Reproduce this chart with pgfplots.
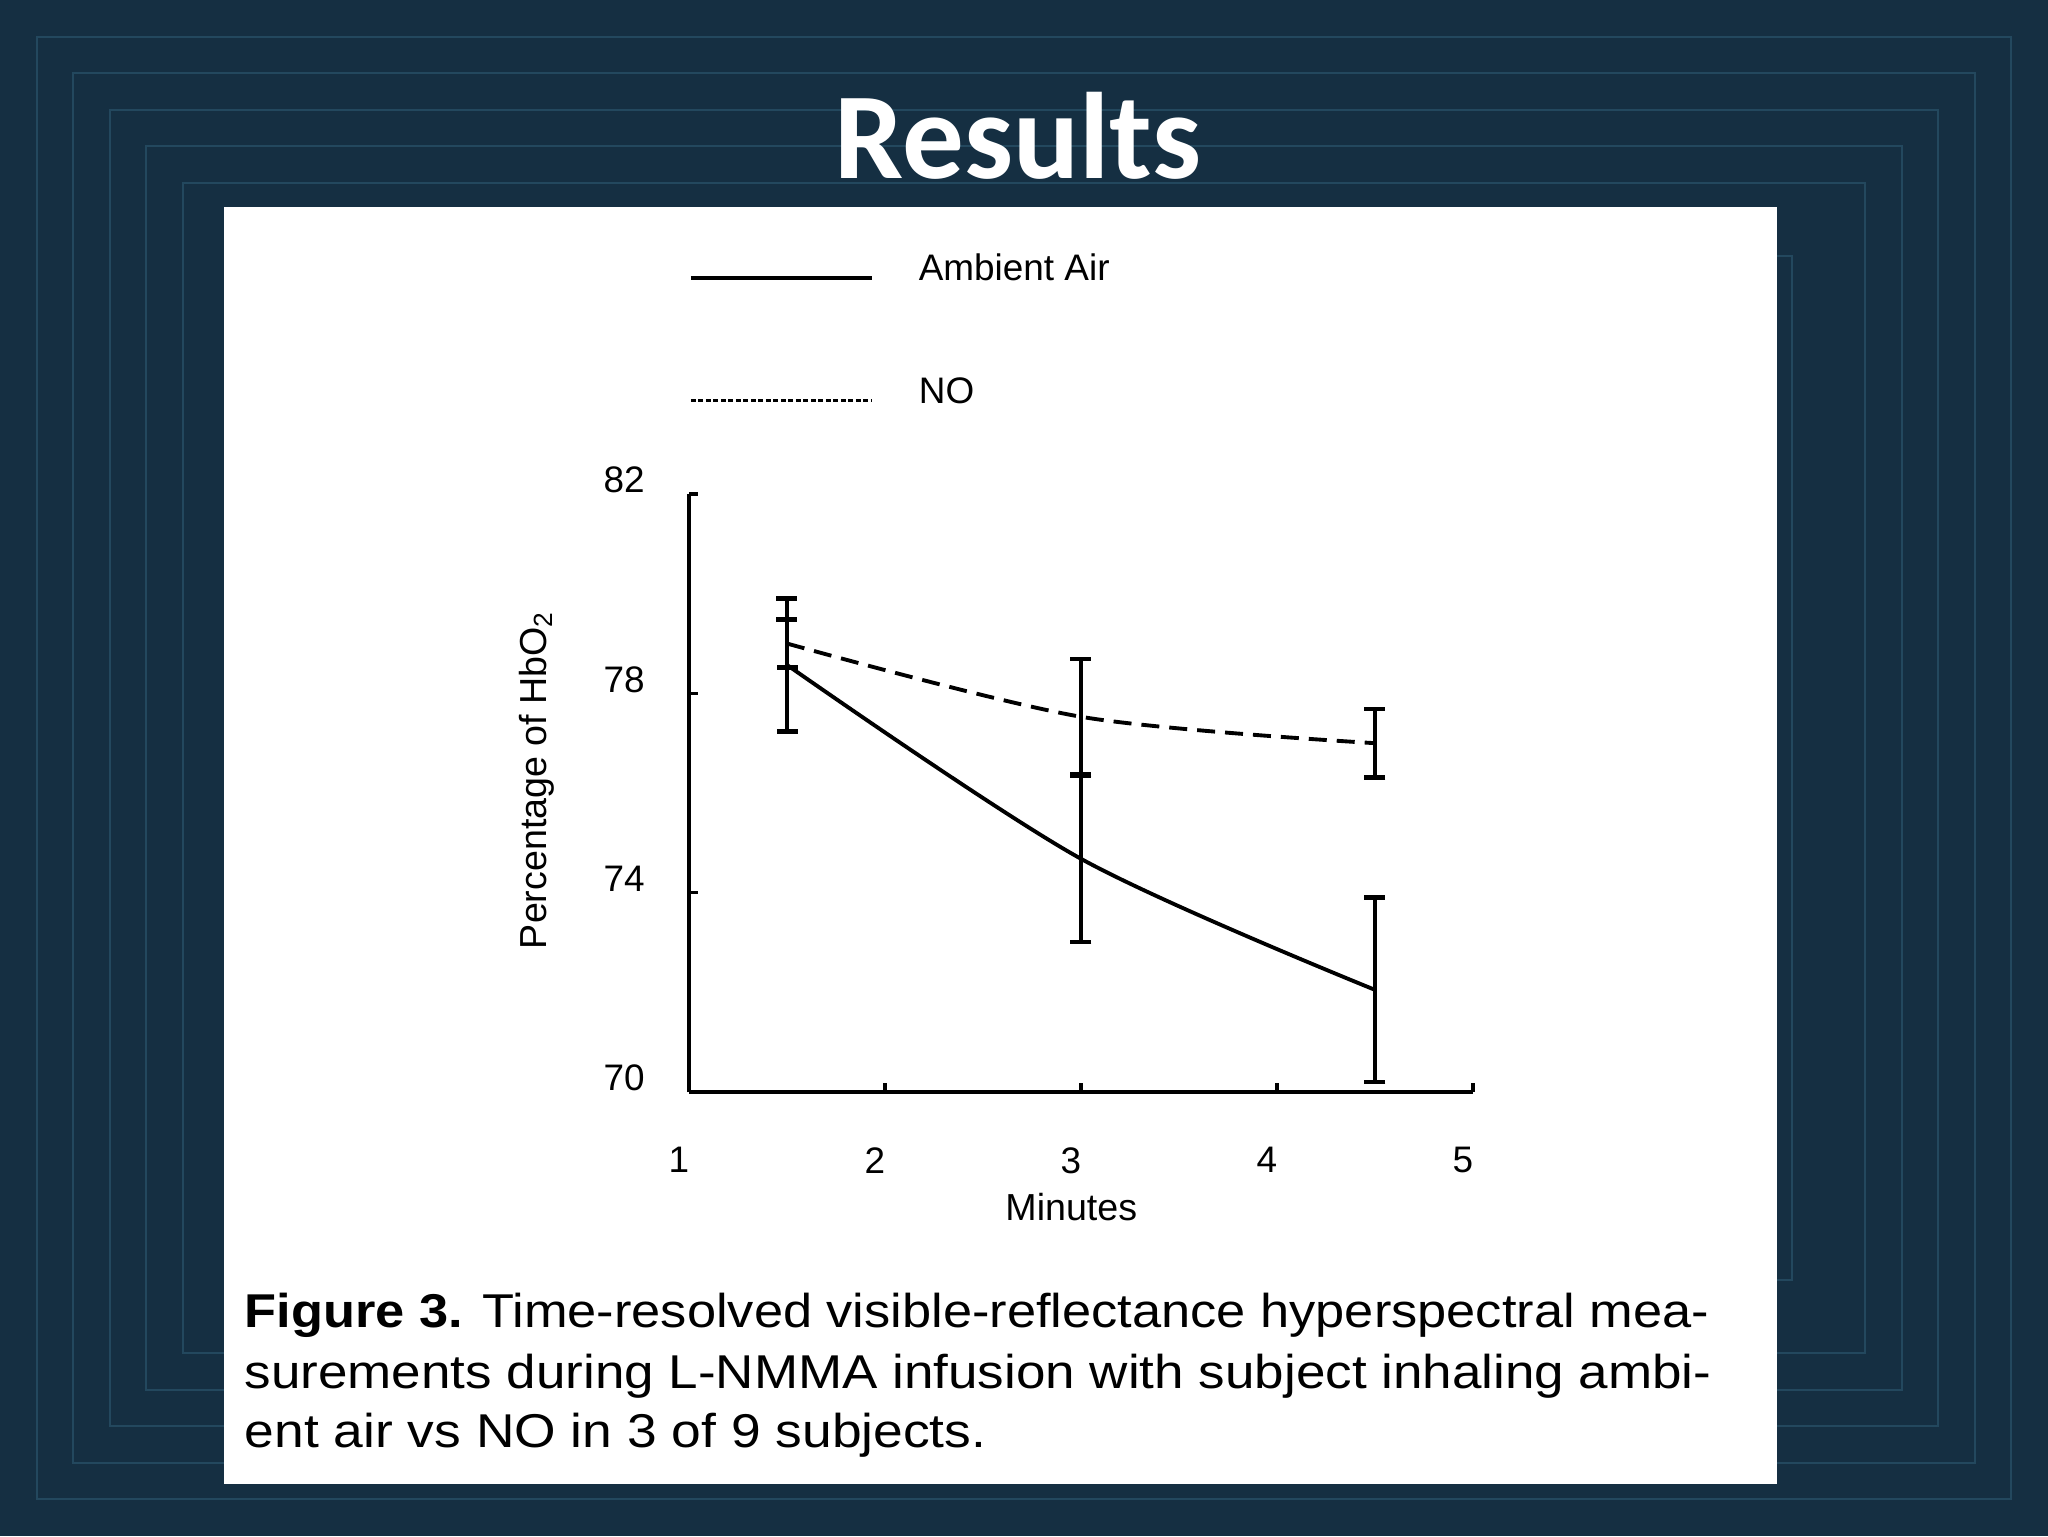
\documentclass[border=0pt]{standalone}
\usepackage{fontspec}
\setmainfont{Liberation Sans}
\newfontfamily\titlefont{Carlito}
\usepackage{pgfplots}
\pgfplotsset{compat=1.18}
\definecolor{bg}{HTML}{152F42}
\definecolor{bgline}{HTML}{23485E}
\begin{document}
\begin{tikzpicture}
\begin{scope}[x=0.1mm,y=-0.1mm]
\path[use as bounding box] (0,0) rectangle (2048,1536);
\fill[bg] (0,0) rectangle (2048,1536);
\foreach \i in {37,73,110,146,183,256} {
  \draw[bgline, line width=0.45pt] (\i,\i) rectangle (2048-\i,1536-\i);
}
\fill[white] (224,207) rectangle (1777,1484);
\node[anchor=base, text=white, inner sep=0pt, font=\titlefont\bfseries\fontsize{35}{40}\selectfont] at (1018,178) {Results};
\begin{scope}[every node/.style={anchor=base west, inner sep=0pt, font=\fontsize{13.5}{16}\selectfont}]
\node at (244,1327) {\scalebox{1.104}[1]{\textbf{Figure 3.} Time-resolved visible-reflectance hyperspectral mea-}};
\node at (244,1388) {\scalebox{1.117}[1]{surements during L-NMMA infusion with subject inhaling ambi-}};
\node at (244,1447) {\scalebox{1.125}[1]{ent air vs NO in 3 of 9 subjects.}};
\end{scope}
\end{scope}
\begin{axis}[
  at={(68.9mm,-109.2mm)}, anchor=south west,
  scale only axis, width=78.4mm, height=59.8mm,
  xmin=1, xmax=5, ymin=70, ymax=82,
  axis x line*=bottom, axis y line*=left,
  axis line style={line width=1.1pt, black},
  xtick={1,2,3,4,5}, ytick={70,74,78,82},
  tick align=inside, major tick length=0.9mm,
  tick style={line width=1pt, black},
  /pgf/number format/assume math mode=true,
  tick label style={font=\fontsize{10.5}{12}\selectfont},
  xticklabel style={yshift=-4.3mm, xshift=-1mm},
  yticklabel style={xshift=-3.2mm, yshift=1.4mm},
  xlabel={Minutes},
  ylabel={Percentage of HbO\textsubscript{2}},
  label style={font=\fontsize{10.7}{12}\selectfont},
  xlabel style={at={(axis description cs:0.4876,0)}, anchor=center, yshift=-11.5mm},
  ylabel style={at={(axis description cs:-0.194,0.522)}, anchor=center},
  clip=false,
  legend style={at={(axis description cs:0,1.401)}, anchor=north west, draw=none, fill=none,
    inner sep=0pt, outer sep=0pt, row sep=9.1mm, column sep=4.5mm,
    font=\fontsize{10.5}{12}\selectfont, nodes={inner sep=0pt}},
  legend cell align=left,
  legend image code/.code={\draw[#1] (0mm,-0.8mm) -- (18.1mm,-0.8mm);},
]
\addlegendimage{black, line width=1.1pt}
\addlegendentry{Ambient Air}
\addlegendimage{black, line width=0.8pt, dash pattern=on 0.5mm off 0.25mm}
\addlegendentry{NO}
\addplot[black, line width=1.1pt, smooth, tension=0.5, forget plot,
  error bars/.cd, y dir=both, y explicit,
  error bar style={line width=1.1pt, solid},
  error mark options={rotate=90, mark size=1.05mm, line width=1.3pt, solid}]
  coordinates {(1.5,78.57) +- (0,1.33) (3,74.68) +- (0,1.67) (4.5,72.05) +- (0,1.85)};
\addplot[black, line width=1.1pt, smooth, tension=0.5, dash pattern=on 1.8mm off 1mm, forget plot,
  error bars/.cd, y dir=both, y explicit,
  error bar style={line width=1.1pt, solid},
  error mark options={rotate=90, mark size=1.05mm, line width=1.3pt, solid}]
  coordinates {(1.5,79.0) +- (0,0.48) (3,77.53) +- (0,1.16) (4.5,77.0) +- (0,0.69)};
\end{axis}
\end{tikzpicture}
\end{document}
